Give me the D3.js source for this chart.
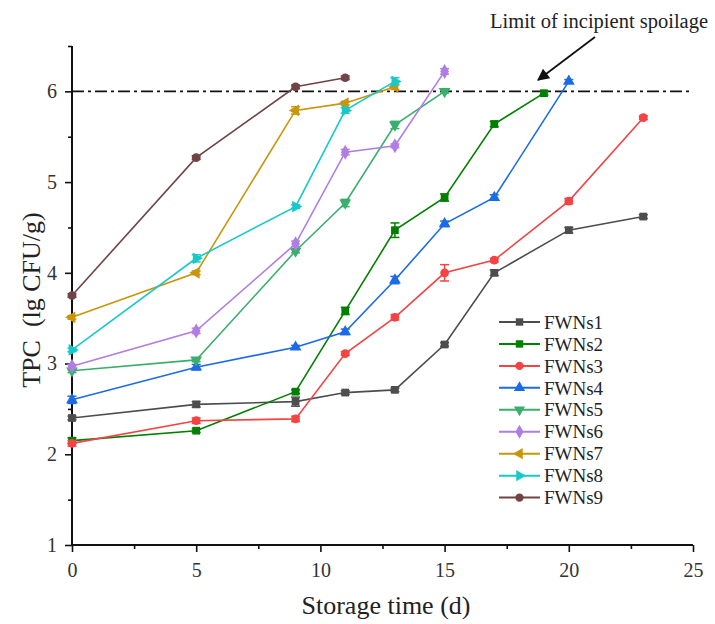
<!DOCTYPE html>
<html>
<head>
<meta charset="utf-8">
<script src="https://cdn.jsdelivr.net/npm/d3@7/dist/d3.min.js"></script>
<style>
  html, body { margin: 0; padding: 0; background: #fff; }
  svg { display: block; }
  svg text { font-family: "Liberation Serif", "Times New Roman", serif; }
</style>
</head>
<body>
<svg id="chart" width="715" height="624"></svg>
<script>
// Storage days sampled for each treatment
const days1 = [0, 5, 9, 11, 13, 15, 17, 20, 23];
const days2 = [0, 5, 9, 11, 13, 15, 17, 19];
const days3 = [0, 5, 9, 11, 13, 15, 17, 20, 23];
const days4 = [0, 5, 9, 11, 13, 15, 17, 20];
const days5 = [0, 5, 9, 11, 13, 15];
const days6 = [0, 5, 9, 11, 13, 15];
const days7 = [0, 5, 9, 11, 13];
const days8 = [0, 5, 9, 11, 13];
const days9 = [0, 5, 9, 11];

// Total plate count, lg CFU/g
const tpc1 = [2.40, 2.55, 2.58, 2.68, 2.71, 3.21, 4.00, 4.47, 4.62];
const tpc2 = [2.15, 2.26, 2.69, 3.58, 4.47, 4.83, 5.64, 5.98];
const tpc3 = [2.12, 2.37, 2.39, 3.11, 3.51, 4.00, 4.14, 4.79, 5.71];
const tpc4 = [2.60, 2.96, 3.18, 3.35, 3.92, 4.54, 4.83, 6.11];
const tpc5 = [2.92, 3.04, 4.24, 4.77, 5.63, 6.00];
const tpc6 = [2.97, 3.36, 4.32, 5.33, 5.40, 6.22];
const tpc7 = [3.51, 4.00, 5.79, 5.87, 6.05];
const tpc8 = [3.15, 4.16, 4.73, 5.79, 6.11];
const tpc9 = [3.75, 5.27, 6.05, 6.15];

// Standard deviations
const sd1 = [0.02, 0.03, 0.05, 0.02, 0.02, 0.02, 0.03, 0.03, 0.02];
const sd2 = [0.03, 0.02, 0.02, 0.04, 0.08, 0.04, 0.03, 0.02];
const sd3 = [0.03, 0.03, 0.03, 0.02, 0.03, 0.09, 0.02, 0.03, 0.02];
const sd4 = [0.04, 0.03, 0.02, 0.03, 0.04, 0.03, 0.03, 0.02];
const sd5 = [0.02, 0.02, 0.02, 0.04, 0.04, 0.02];
const sd6 = [0.02, 0.03, 0.03, 0.03, 0.02, 0.03];
const sd7 = [0.02, 0.02, 0.04, 0.02, 0.03];
const sd8 = [0.02, 0.04, 0.02, 0.03, 0.04];
const sd9 = [0.02, 0.02, 0.02, 0.02];

const seriesNames = ["FWNs1", "FWNs2", "FWNs3", "FWNs4", "FWNs5", "FWNs6", "FWNs7", "FWNs8", "FWNs9"];
const seriesColors = ["#4d4d4d", "#007f00", "#f44343", "#1c6be6", "#3aae6c", "#b07de2", "#c8960b", "#17c9c9", "#704444"];

const xTicks = [0, 5, 10, 15, 20, 25];
const yTicks = [1, 2, 3, 4, 5, 6];
const spoilageLimit = 6;
const limitLabel = "Limit of incipient spoilage";

const allDays = [days1, days2, days3, days4, days5, days6, days7, days8, days9];
const allTpc = [tpc1, tpc2, tpc3, tpc4, tpc5, tpc6, tpc7, tpc8, tpc9];
const allSd = [sd1, sd2, sd3, sd4, sd5, sd6, sd7, sd8, sd9];

const serif = "Liberation Serif, Times New Roman, serif";

// marker shape and rotation per series
const markerShapes = [
  [d3.symbolSquare, 0], [d3.symbolSquare, 0], [d3.symbolCircle, 0],
  [d3.symbolTriangle, 0], [d3.symbolTriangle, 180], [d3.symbolDiamond, 0],
  [d3.symbolTriangle, -90], [d3.symbolTriangle, 90], [d3.symbolCircle, 0]
];

const series = seriesNames.map((name, i) => ({
  name, color: seriesColors[i], shape: markerShapes[i],
  points: allDays[i].map((d, j) => ({ t: d, v: allTpc[i][j], e: allSd[i][j] }))
}));

const svg = d3.select("#chart");
const x = d3.scaleLinear().domain([0, 25]).range([72, 693]);
const y = d3.scaleLinear().domain([1, 6.5]).range([545, 46]);

// axes
const xAxis = svg.append("g").attr("transform", "translate(0,545)")
  .call(d3.axisBottom(x).tickValues(xTicks).tickSize(7).tickPadding(11).tickFormat(d3.format("d")));
svg.append("g").attr("transform", "translate(0,545)")
  .call(d3.axisBottom(x).tickValues(d3.range(2.5, 25, 5)).tickSize(4).tickFormat(""))
  .call(g => g.select(".domain").remove());
const yAxis = svg.append("g").attr("transform", "translate(72,0)")
  .call(d3.axisLeft(y).tickValues(yTicks).tickSize(7).tickPadding(8).tickFormat(d3.format("d")));
svg.append("g").attr("transform", "translate(72,0)")
  .call(d3.axisLeft(y).tickValues(d3.range(1.5, 6.6, 1)).tickSize(4).tickFormat(""))
  .call(g => g.select(".domain").remove());

svg.selectAll("g").attr("font-family", serif);
svg.selectAll(".domain").attr("stroke", "#111").attr("stroke-width", 2);
svg.selectAll(".tick line").attr("stroke", "#111").attr("stroke-width", 1.6);
svg.selectAll(".tick text").attr("font-size", 20).attr("fill", "#333");
yAxis.selectAll(".domain").attr("d", `M0,${y(1)}V${y(6.5)}`);
xAxis.selectAll(".domain").attr("d", `M${x(0)},0H${x(25)}`);

// spoilage limit line
svg.append("line")
  .attr("x1", x(0)).attr("x2", x(25))
  .attr("y1", y(spoilageLimit)).attr("y2", y(spoilageLimit))
  .attr("stroke", "#111").attr("stroke-width", 1.6)
  .attr("stroke-dasharray", "12,4,3,4");

// series
const line = d3.line().x(d => x(d.t)).y(d => y(d.v));
const gSeries = svg.append("g");
series.forEach(s => {
  const g = gSeries.append("g");
  g.append("path").datum(s.points).attr("d", line)
    .attr("fill", "none").attr("stroke", s.color).attr("stroke-width", 1.6);
  const eb = g.selectAll(".eb").data(s.points).enter().append("g")
    .attr("stroke", s.color).attr("stroke-width", 1.5);
  eb.append("line").attr("x1", d => x(d.t)).attr("x2", d => x(d.t))
    .attr("y1", d => y(d.v - d.e)).attr("y2", d => y(d.v + d.e));
  eb.append("line").attr("x1", d => x(d.t) - 4.5).attr("x2", d => x(d.t) + 4.5)
    .attr("y1", d => y(d.v - d.e)).attr("y2", d => y(d.v - d.e));
  eb.append("line").attr("x1", d => x(d.t) - 4.5).attr("x2", d => x(d.t) + 4.5)
    .attr("y1", d => y(d.v + d.e)).attr("y2", d => y(d.v + d.e));
  const sym = d3.symbol().type(s.shape[0]).size(s.shape[0] === d3.symbolDiamond ? 65 : 60);
  g.selectAll(".mk").data(s.points).enter().append("path")
    .attr("d", sym)
    .attr("transform", d => `translate(${x(d.t)},${y(d.v)}) rotate(${s.shape[1]})`)
    .attr("fill", s.color);
});

// annotation
svg.append("text").attr("x", 599).attr("y", 28).attr("text-anchor", "middle")
  .attr("font-size", 20.5).attr("fill", "#222").text(limitLabel);
svg.append("defs").append("marker").attr("id", "arrowhead")
  .attr("viewBox", "0 0 10 10").attr("refX", 9).attr("refY", 5)
  .attr("markerWidth", 14).attr("markerHeight", 12).attr("orient", "auto")
  .attr("markerUnits", "userSpaceOnUse")
  .append("path").attr("d", "M0,0L10,5L0,10Z").attr("fill", "#111");
svg.append("line").attr("x1", 595).attr("y1", 37).attr("x2", 538).attr("y2", 80)
  .attr("stroke", "#111").attr("stroke-width", 1.8)
  .attr("marker-end", "url(#arrowhead)");

// legend
const legend = svg.append("g");
series.forEach((s, i) => {
  const ly = 322 + i * 21.95;
  const row = legend.append("g");
  row.append("line").attr("x1", 499).attr("x2", 540).attr("y1", ly).attr("y2", ly)
    .attr("stroke", s.color).attr("stroke-width", 2);
  row.append("path").attr("d", d3.symbol().type(s.shape[0]).size(55))
    .attr("transform", `translate(519.5,${ly}) rotate(${s.shape[1]})`).attr("fill", s.color);
  row.append("text").attr("x", 544).attr("y", ly).attr("dy", "0.35em")
    .attr("font-size", 19).attr("fill", "#222").text(s.name);
});

// axis titles
svg.append("text").attr("x", 386).attr("y", 614).attr("text-anchor", "middle")
  .attr("font-size", 26).attr("fill", "#222").text("Storage time (d)");
svg.append("text").attr("transform", `translate(40,${y(3.7)}) rotate(-90)`)
  .attr("text-anchor", "middle").attr("font-size", 26).attr("fill", "#222")
  .style("white-space", "pre").text("TPC  (lg CFU/g)");
</script>
</body>
</html>
